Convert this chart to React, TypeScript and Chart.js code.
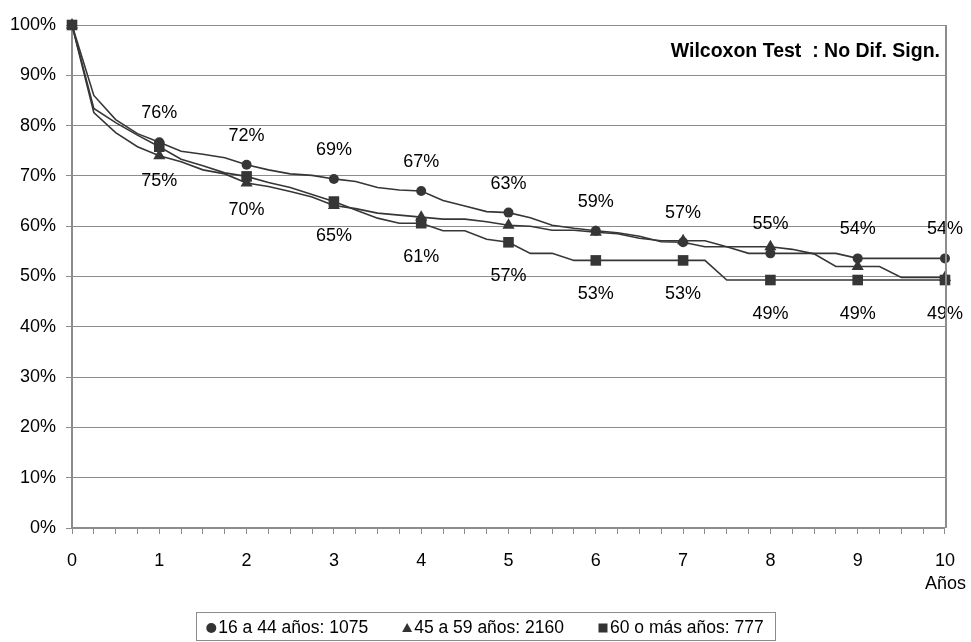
import React, { useEffect, useRef } from 'react';
import { Chart, registerables } from 'chart.js';
Chart.register(...registerables);

const years = [0, 0.25, 0.5, 0.75, 1, 1.25, 1.5, 1.75, 2, 2.25, 2.5, 2.75, 3, 3.25, 3.5, 3.75, 4, 4.25, 4.5, 4.75, 5, 5.25, 5.5, 5.75, 6, 6.25, 6.5, 6.75, 7, 7.25, 7.5, 7.75, 8, 8.25, 8.5, 8.75, 9, 9.25, 9.5, 9.75, 10];

const serie16a44 = [100, 86, 81.2, 78.4, 76.7, 74.9, 74.3, 73.6, 72.2, 71.2, 70.4, 70.1, 69.4, 68.9, 67.7, 67.2, 67.0, 65.1, 64.0, 62.9, 62.7, 61.7, 60.2, 59.6, 59.1, 58.7, 58.0, 56.9, 56.8, 55.9, 55.9, 54.6, 54.6, 54.6, 54.6, 54.6, 53.6, 53.6, 53.6, 53.6, 53.6];
const serie45a59 = [100, 82.6, 78.6, 75.8, 74.0, 72.8, 71.2, 70.4, 68.6, 67.9, 66.9, 65.8, 64.1, 63.5, 62.6, 62.2, 61.8, 61.4, 61.4, 60.9, 60.2, 60.0, 59.2, 59.2, 58.8, 58.5, 57.6, 57.1, 57.1, 57.1, 55.9, 55.9, 55.9, 55.4, 54.5, 52.0, 52.0, 52.0, 49.8, 49.8, 49.8];
const serie60mas = [100, 83.4, 80.6, 78.1, 75.8, 73.3, 72.0, 70.6, 69.9, 68.7, 67.7, 66.3, 64.9, 63.2, 61.6, 60.6, 60.6, 59.1, 59.1, 57.4, 56.8, 54.6, 54.6, 53.2, 53.2, 53.2, 53.2, 53.2, 53.2, 53.2, 49.3, 49.3, 49.3, 49.3, 49.3, 49.3, 49.3, 49.3, 49.3, 49.3, 49.3];

const labelYears = [1, 2, 3, 4, 5, 6, 7, 8, 9, 10];
const labels16a44 = ['76%', '72%', '69%', '67%', '63%', '59%', '57%', '55%', '54%', '54%'];
const labels60mas = ['75%', '70%', '65%', '61%', '57%', '53%', '53%', '49%', '49%', '49%'];

const seriesNames = ['16 a 44 años: 1075', '45 a 59 años: 2160', '60 o más años: 777'];
const annotationText = 'Wilcoxon Test  : No Dif. Sign.';
const xTitle = 'Años';

const FONT = "'Liberation Sans', Arial, sans-serif";
const LINE = '#363636';
const GRID = '#8c8c8c';

function drawSymbol(ctx: CanvasRenderingContext2D, kind: string, x: number, y: number, s: number) {
  ctx.beginPath();
  if (kind === 'circle') {
    ctx.arc(x, y, s, 0, Math.PI * 2);
  } else if (kind === 'triangle') {
    ctx.moveTo(x, y - s);
    ctx.lineTo(x + s, y + s * 0.8);
    ctx.lineTo(x - s, y + s * 0.8);
    ctx.closePath();
  } else {
    ctx.rect(x - s, y - s, 2 * s, 2 * s);
  }
  ctx.fill();
}

const extrasPlugin = {
  id: 'extras',
  afterDatasetsDraw(chart: any) {
    const ctx = chart.ctx as CanvasRenderingContext2D;
    const m1 = chart.getDatasetMeta(0);
    const m3 = chart.getDatasetMeta(2);
    ctx.save();
    ctx.fillStyle = '#000';
    ctx.font = `18px ${FONT}`;
    ctx.textAlign = 'center';
    ctx.textBaseline = 'middle';
    labelYears.forEach((yr, i) => {
      const idx = years.indexOf(yr);
      const p1 = m1.data[idx];
      const p3 = m3.data[idx];
      ctx.fillText(labels16a44[i], p1.x, p1.y - 29);
      ctx.fillText(labels60mas[i], p3.x, p3.y + 34);
    });
    ctx.restore();
  },
  afterDraw(chart: any) {
    const ctx = chart.ctx as CanvasRenderingContext2D;
    const a = chart.chartArea;
    ctx.save();
    ctx.strokeStyle = GRID;
    ctx.lineWidth = 2;
    ctx.beginPath();
    ctx.moveTo(a.right + 1, a.top);
    ctx.lineTo(a.right + 1, a.bottom);
    ctx.stroke();

    ctx.fillStyle = '#000';
    ctx.font = `bold 19.5px ${FONT}`;
    ctx.textAlign = 'right';
    ctx.textBaseline = 'middle';
    ctx.fillText(annotationText, 940, 52);

    ctx.font = `18px ${FONT}`;
    ctx.textAlign = 'right';
    ctx.fillText(xTitle, 966, 584);

    ctx.font = `17.5px ${FONT}`;
    const kinds = ['circle', 'triangle', 'rect'];
    const symW = 12;
    const gap = 34;
    const widths = seriesNames.map((n) => ctx.measureText(n).width);
    const total = widths.reduce((s, w) => s + w + symW, 0) + gap * 2;
    let x = 485 - total / 2;
    const ly = 628;
    const boxL = x - 10, boxR = x + total + 12;
    ctx.strokeStyle = GRID;
    ctx.lineWidth = 1;
    ctx.strokeRect(Math.round(boxL) + 0.5, 612.5, Math.round(boxR - boxL), 28);
    ctx.textAlign = 'left';
    seriesNames.forEach((n, i) => {
      ctx.fillStyle = '#333';
      drawSymbol(ctx, kinds[i], x + 5, ly, kinds[i] === 'rect' ? 4.5 : 5);
      ctx.fillStyle = '#000';
      ctx.fillText(n, x + symW, ly);
      x += symW + widths[i] + gap;
    });
    ctx.restore();
  },
};

export default function App() {
  const ref = useRef<HTMLCanvasElement>(null);
  useEffect(() => {
    const canvas = ref.current!;
    const radii = (r: number) => years.map((y) => (Number.isInteger(y) ? r : 0));
    const mk = (data: number[]) => years.map((x, i) => ({ x, y: data[i] }));
    const common = {
      borderColor: LINE,
      backgroundColor: LINE,
      borderWidth: 1.6,
      pointBorderWidth: 0,
      pointHoverRadius: 0,
      tension: 0,
      clip: false as any,
    };
    const chart = new Chart(canvas, {
      type: 'line',
      data: {
        datasets: [
          { ...common, label: seriesNames[0], data: mk(serie16a44), pointStyle: 'circle', pointRadius: radii(5), order: 2 },
          { ...common, label: seriesNames[1], data: mk(serie45a59), pointStyle: 'triangle', pointRadius: radii(7), order: 1 },
          { ...common, label: seriesNames[2], data: mk(serie60mas), pointStyle: 'rect', pointRadius: radii(7.5), order: 0 },
        ],
      },
      options: {
        responsive: false,
        animation: false,
        devicePixelRatio: 1,
        layout: { padding: { left: 0, right: 23, top: 25, bottom: 54 } },
        plugins: { legend: { display: false }, tooltip: { enabled: false } },
        scales: {
          x: {
            type: 'linear',
            min: 0,
            max: 10,
            afterFit: (s: any) => { s.height = 60; },
            ticks: {
              stepSize: 0.25,
              autoSkip: false,
              maxRotation: 0,
              padding: 16,
              color: '#000',
              font: { family: FONT, size: 18 },
              callback: (v: any) => (Number.isInteger(v) ? String(v) : ''),
            },
            grid: { drawOnChartArea: false, drawTicks: true, tickLength: 6, color: GRID },
            border: { color: GRID, width: 2 },
          },
          y: {
            min: 0,
            max: 100,
            afterFit: (s: any) => { s.width = 72; },
            ticks: {
              stepSize: 10,
              padding: 10,
              color: '#000',
              font: { family: FONT, size: 18 },
              callback: (v: any) => `${v}%`,
            },
            grid: { color: GRID, lineWidth: 1, tickLength: 6 },
            border: { color: GRID, width: 2 },
          },
        },
      },
      plugins: [extrasPlugin],
    });
    return () => chart.destroy();
  }, []);
  return (
    <div style={{ position: 'fixed', left: 0, top: 0, width: 971, height: 642, background: '#fff' }}>
      <canvas ref={ref} width={971} height={642} style={{ display: 'block', width: 971, height: 642 }} />
    </div>
  );
}
